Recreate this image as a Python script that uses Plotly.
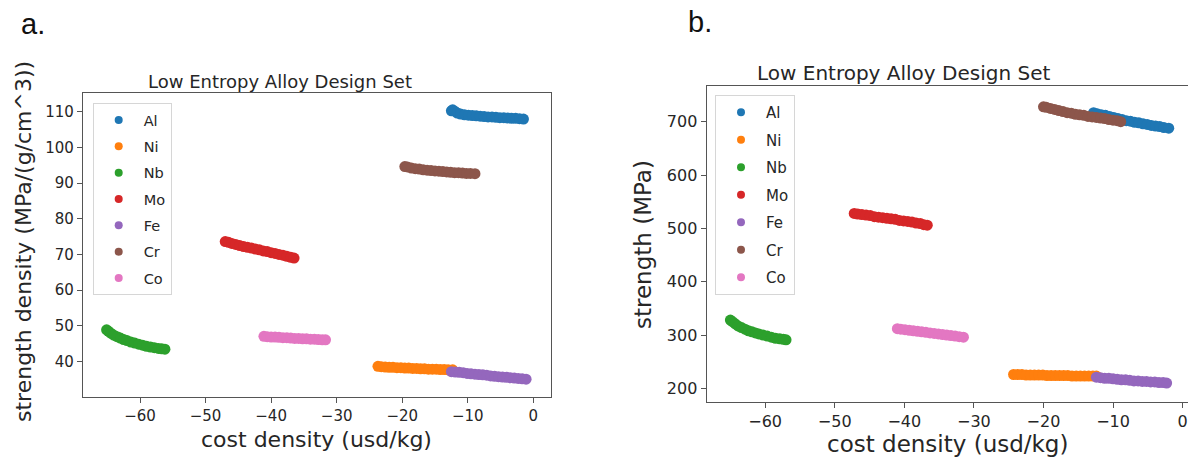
import plotly.graph_objects as go

W, H = 1196, 459
OFF = 8  # page body margin of the html page

elements = ["Al", "Ni", "Nb", "Mo", "Fe", "Cr", "Co"]
colors = ["#1f77b4", "#ff7f0e", "#2ca02c", "#d62728", "#9467bd", "#8c564b", "#e377c2"]

# ---- panel a: strength density vs cost density ----
a_Al_x = [-12.5, -12.3, -12.0, -11.6, -11.1, -10.5, -9.9, -9.3, -8.7, -8.1, -7.5, -6.9, -6.3, -5.7, -5.1, -4.5, -3.9, -3.3, -2.7, -2.1, -1.5]
a_Al_y = [110.2, 110.5, 110.1, 109.6, 109.3, 109.1, 109.0, 108.9, 108.8, 108.7, 108.6, 108.5, 108.5, 108.4, 108.3, 108.3, 108.2, 108.1, 108.1, 108.0, 107.9]
a_Ni_x = [-23.7, -23.2, -22.6, -22.0, -21.4, -20.8, -20.2, -19.6, -19.0, -18.4, -17.8, -17.2, -16.6, -16.0, -15.4, -14.8, -14.2, -13.6, -13.0, -12.3]
a_Ni_y = [38.7, 38.6, 38.5, 38.4, 38.4, 38.3, 38.3, 38.2, 38.2, 38.1, 38.1, 38.0, 38.0, 37.9, 37.9, 37.9, 37.8, 37.8, 37.7, 37.7]
a_Nb_x = [-65.1, -64.8, -64.4, -64.0, -63.5, -63.0, -62.5, -62.0, -61.4, -60.8, -60.2, -59.6, -59.0, -58.4, -57.8, -57.2, -56.7, -56.2]
a_Nb_y = [48.9, 48.5, 47.9, 47.4, 47.0, 46.6, 46.2, 45.9, 45.5, 45.2, 44.9, 44.6, 44.3, 44.1, 43.9, 43.7, 43.6, 43.5]
a_Mo_x = [-47.0, -46.5, -46.0, -45.4, -44.8, -44.2, -43.6, -43.0, -42.4, -41.8, -41.2, -40.6, -40.0, -39.4, -38.8, -38.2, -37.6, -37.0, -36.5]
a_Mo_y = [73.6, 73.4, 73.1, 72.8, 72.5, 72.2, 72.0, 71.8, 71.5, 71.3, 71.0, 70.8, 70.5, 70.3, 70.0, 69.8, 69.5, 69.2, 69.0]
a_Fe_x = [-12.5, -11.9, -11.3, -10.7, -10.1, -9.5, -8.9, -8.3, -7.7, -7.1, -6.5, -5.9, -5.3, -4.7, -4.1, -3.5, -2.9, -2.3, -1.7, -1.1]
a_Fe_y = [37.2, 37.1, 37.0, 36.9, 36.7, 36.6, 36.5, 36.4, 36.3, 36.2, 36.0, 35.9, 35.8, 35.7, 35.6, 35.5, 35.4, 35.3, 35.2, 35.1]
a_Cr_x = [-19.6, -19.2, -18.6, -18.0, -17.4, -16.8, -16.2, -15.6, -15.0, -14.4, -13.8, -13.2, -12.6, -12.0, -11.4, -10.8, -10.2, -9.6, -8.9]
a_Cr_y = [94.6, 94.5, 94.2, 94.0, 93.9, 93.7, 93.6, 93.5, 93.4, 93.3, 93.2, 93.1, 93.0, 92.9, 92.9, 92.8, 92.7, 92.7, 92.6]
a_Co_x = [-41.1, -40.6, -40.0, -39.4, -38.8, -38.2, -37.6, -37.0, -36.4, -35.8, -35.2, -34.6, -34.0, -33.4, -32.8, -32.2, -31.7]
a_Co_y = [47.1, 47.0, 46.9, 46.9, 46.8, 46.7, 46.7, 46.6, 46.5, 46.5, 46.4, 46.4, 46.3, 46.3, 46.2, 46.1, 46.1]

# ---- panel b: strength vs cost density ----
b_Al_x = [-12.8, -12.3, -11.7, -11.1, -10.5, -9.9, -9.3, -8.7, -8.1, -7.5, -6.9, -6.3, -5.7, -5.1, -4.5, -3.9, -3.3, -2.7, -2.0]
b_Al_y = [717, 715, 713, 712, 710, 708, 706, 704, 702, 701, 699, 698, 696, 695, 693, 692, 691, 689, 688]
b_Ni_x = [-24.3, -23.7, -23.1, -22.5, -21.9, -21.3, -20.7, -20.1, -19.5, -18.9, -18.3, -17.7, -17.1, -16.5, -15.9, -15.3, -14.7, -14.1, -13.5, -12.9, -12.4]
b_Ni_y = [226, 226, 226, 225, 225, 225, 225, 225, 224, 224, 224, 224, 224, 224, 223, 223, 223, 223, 223, 223, 223]
b_Nb_x = [-65.0, -64.7, -64.3, -63.9, -63.4, -62.9, -62.4, -61.9, -61.4, -60.9, -60.3, -59.7, -59.1, -58.5, -57.9, -57.4, -57.0]
b_Nb_y = [328, 325, 321, 317, 314, 311, 308, 306, 304, 302, 300, 298, 296, 294, 293, 292, 291]
b_Mo_x = [-47.2, -46.7, -46.1, -45.5, -44.9, -44.3, -43.7, -43.1, -42.5, -41.9, -41.3, -40.7, -40.1, -39.5, -38.9, -38.3, -37.7, -37.2, -36.7]
b_Mo_y = [528, 527, 526, 525, 524, 522, 521, 520, 519, 518, 517, 515, 514, 513, 512, 510, 509, 507, 506]
b_Fe_x = [-12.4, -11.8, -11.2, -10.6, -10.0, -9.4, -8.8, -8.2, -7.6, -7.0, -6.4, -5.8, -5.2, -4.6, -4.0, -3.4, -2.8, -2.3]
b_Fe_y = [221, 220, 219, 219, 218, 217, 216, 216, 215, 214, 214, 213, 213, 212, 212, 211, 211, 210]
b_Cr_x = [-20.0, -19.6, -19.0, -18.4, -17.8, -17.2, -16.6, -16.0, -15.4, -14.8, -14.2, -13.6, -13.0, -12.4, -11.8, -11.2, -10.6, -10.0, -9.4, -8.9]
b_Cr_y = [728, 727, 725, 723, 721, 719, 717, 716, 714, 713, 712, 710, 709, 708, 707, 706, 704, 703, 702, 700]
b_Co_x = [-41.0, -40.5, -39.9, -39.3, -38.7, -38.1, -37.5, -36.9, -36.3, -35.7, -35.1, -34.5, -33.9, -33.3, -32.7, -32.1, -31.5]
b_Co_y = [312, 311, 310, 309, 308, 307, 306, 305, 304, 303, 302, 301, 300, 299, 298, 297, 296]

panel_a = [(a_Al_x, a_Al_y), (a_Ni_x, a_Ni_y), (a_Nb_x, a_Nb_y), (a_Mo_x, a_Mo_y),
           (a_Fe_x, a_Fe_y), (a_Cr_x, a_Cr_y), (a_Co_x, a_Co_y)]
panel_b = [(b_Al_x, b_Al_y), (b_Ni_x, b_Ni_y), (b_Nb_x, b_Nb_y), (b_Mo_x, b_Mo_y),
           (b_Fe_x, b_Fe_y), (b_Cr_x, b_Cr_y), (b_Co_x, b_Co_y)]

title_text = "Low Entropy Alloy Design Set"
x_title = "cost density (usd/kg)"
ya_title = "strength density (MPa/(g/cm^3))"
yb_title = "strength (MPa)"

x_ticks = [-60, -50, -40, -30, -20, -10, 0]
ya_ticks = [40, 50, 60, 70, 80, 90, 100, 110]
yb_ticks = [200, 300, 400, 500, 600, 700]

FONT = "DejaVu Sans"
TXT = "#262626"


def px(x):
    return (x - OFF) / W


def py(y):
    return 1 - (y - OFF) / H


fig = go.Figure()

for name, col, (xs, ys) in zip(elements, colors, panel_a):
    fig.add_trace(go.Scatter(x=xs, y=ys, mode="markers", xaxis="x", yaxis="y",
                             marker=dict(color=col, size=11, line=dict(width=0)),
                             showlegend=False, name=name))
for name, col in zip(elements, colors):
    fig.add_trace(go.Scatter(x=[None], y=[None], mode="markers", xaxis="x", yaxis="y",
                             marker=dict(color=col, size=8, line=dict(width=0)),
                             name=name, legend="legend", legendgroup="a" + name))

for name, col, (xs, ys) in zip(elements, colors, panel_b):
    fig.add_trace(go.Scatter(x=xs, y=ys, mode="markers", xaxis="x2", yaxis="y2",
                             marker=dict(color=col, size=11, line=dict(width=0)),
                             showlegend=False, name=name))
for name, col in zip(elements, colors):
    fig.add_trace(go.Scatter(x=[None], y=[None], mode="markers", xaxis="x2", yaxis="y2",
                             marker=dict(color=col, size=8, line=dict(width=0)),
                             name=name, legend="legend2", legendgroup="b" + name))

axis_common = dict(showline=True, linecolor="#555555", linewidth=1.3, mirror=True,
                   showgrid=False, zeroline=False, ticks="outside", ticklen=5,
                   tickcolor="#555555")

fig.update_layout(
    width=W, height=H,
    margin=dict(l=0, r=0, t=0, b=0),
    paper_bgcolor="white", plot_bgcolor="white",
    xaxis=dict(domain=[px(83), px(551)], range=[-68.7, 2.7], tickvals=x_ticks,
               anchor="y", tickfont=dict(family=FONT, color=TXT, size=15), **axis_common),
    yaxis=dict(domain=[py(397), py(93)], range=[30.1, 115.2], tickvals=ya_ticks,
               anchor="x", tickfont=dict(family=FONT, color=TXT, size=15), **axis_common),
    xaxis2=dict(domain=[px(706.7), px(1191.7)], range=[-68.4, 1.3], tickvals=x_ticks,
                anchor="y2", tickfont=dict(family=FONT, color=TXT, size=16), **axis_common),
    yaxis2=dict(domain=[py(401.7), py(86)], range=[175, 767], tickvals=yb_ticks,
                anchor="x2", tickfont=dict(family=FONT, color=TXT, size=16), **axis_common),
    legend=dict(x=px(92.7), y=py(103), xanchor="left", yanchor="top",
                bgcolor="rgba(255,255,255,0.9)", bordercolor="#d6d6d6", borderwidth=1,
                font=dict(family=FONT, size=14.5, color=TXT), itemwidth=40,
                tracegroupgap=4.5),
    legend2=dict(x=px(715), y=py(95), xanchor="left", yanchor="top",
                 bgcolor="rgba(255,255,255,0.9)", bordercolor="#d6d6d6", borderwidth=1,
                 font=dict(family=FONT, size=15, color=TXT), itemwidth=40,
                 tracegroupgap=5),
)

ann = [
    dict(text="a.", x=px(33), y=py(24), font=dict(family="Liberation Sans", size=29, color="#111")),
    dict(text="b.", x=px(700), y=py(22), font=dict(family="Liberation Sans", size=29, color="#111")),
    dict(text=title_text, x=px(280), y=py(81), font=dict(family=FONT, size=18, color=TXT)),
    dict(text=title_text, x=px(904), y=py(73), font=dict(family=FONT, size=20, color=TXT)),
    dict(text=x_title, x=px(316), y=py(439), font=dict(family=FONT, size=22, color=TXT)),
    dict(text=x_title, x=px(947), y=py(444), font=dict(family=FONT, size=23, color=TXT)),
    dict(text=ya_title, x=px(24), y=py(242), textangle=-90, font=dict(family=FONT, size=22, color=TXT)),
    dict(text=yb_title, x=px(643), y=py(245), textangle=-90, font=dict(family=FONT, size=23, color=TXT)),
]
for a in ann:
    fig.add_annotation(xref="paper", yref="paper", showarrow=False,
                       xanchor="center", yanchor="middle", **a)

fig.write_html("out.html")
